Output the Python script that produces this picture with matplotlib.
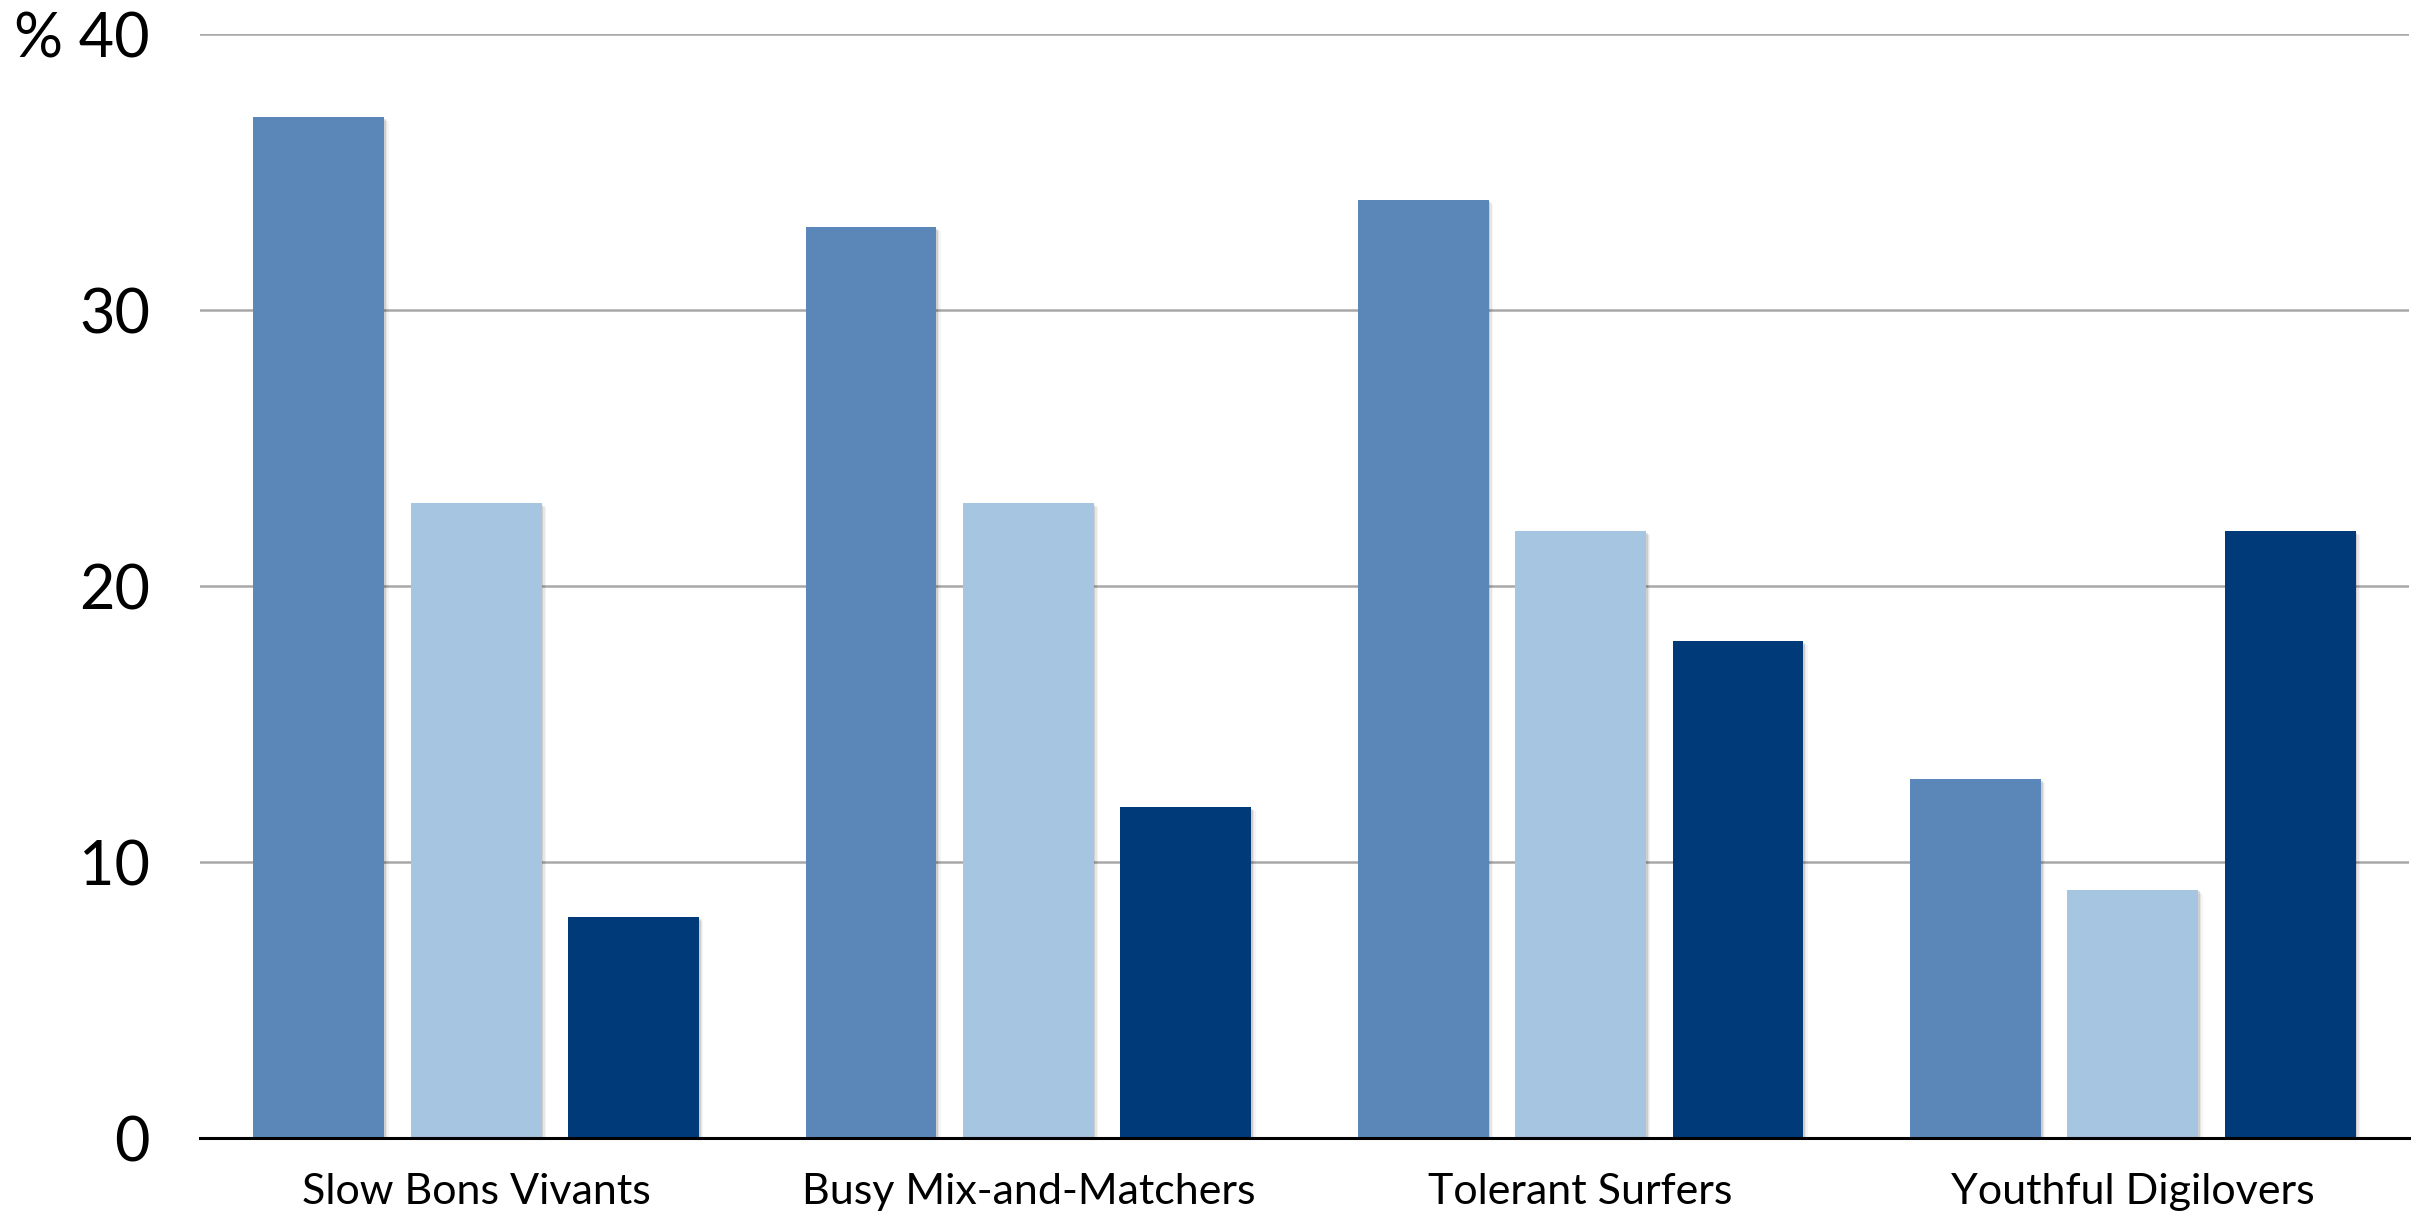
import numpy as np
import matplotlib
matplotlib.use("Agg")
import matplotlib.pyplot as plt
import matplotlib.patheffects as pe

# Segment shares (%) for three series across four consumer segments
segments = ["Slow Bons Vivants", "Busy Mix-and-Matchers", "Tolerant Surfers", "Youthful Digilovers"]
series_a = [37, 33, 34, 13]
series_b = [23, 23, 22, 9]
series_c = [8, 12, 18, 22]
y_ticks = [0, 10, 20, 30, 40]
y_tick_labels = ["0", "10", "20", "30", "% 40"]

colors = ["#5B87B8", "#A6C5E1", "#003A78"]

plt.rcParams["font.family"] = ["Lato", "DejaVu Sans"]

fig = plt.figure(figsize=(24.15, 12.16), dpi=100)
ax = fig.add_axes([0.0828, 0.0641, 0.9147, 0.9079])

x = np.arange(len(segments))
width = 0.237
pitch = 0.285

# soft drop shadow built from a few faint offset copies
shadow = [
    pe.SimplePatchShadow(offset=(1.2, -1.2), shadow_rgbFace="#000000", alpha=0.10),
    pe.SimplePatchShadow(offset=(2.2, -2.0), shadow_rgbFace="#000000", alpha=0.06),
    pe.SimplePatchShadow(offset=(3.2, -2.8), shadow_rgbFace="#000000", alpha=0.04),
    pe.Normal(),
]

for i, vals in enumerate([series_a, series_b, series_c]):
    bars = ax.bar(x + (i - 1) * pitch, vals, width=width, color=colors[i],
                  zorder=3, linewidth=0)
    for b in bars:
        b.set_path_effects(shadow)

ax.set_xlim(-0.5, 3.5)
ax.set_ylim(0, 40)
ax.set_yticks(y_ticks)
ax.set_yticklabels(y_tick_labels)
ax.set_xticks(x)
ax.set_xticklabels(segments)

ax.yaxis.grid(True, color="#A8A8A8", linewidth=1.8, zorder=0)
ax.set_axisbelow(True)
for side in ["top", "right", "left"]:
    ax.spines[side].set_visible(False)
ax.spines["bottom"].set_color("black")
ax.spines["bottom"].set_linewidth(2.2)
ax.spines["bottom"].set_zorder(4)

ax.tick_params(axis="y", length=0, pad=36, labelsize=44, colors="black")
ax.tick_params(axis="x", length=0, pad=25, labelsize=31, colors="black")

fig.savefig("out.png", dpi=100, facecolor="white")
